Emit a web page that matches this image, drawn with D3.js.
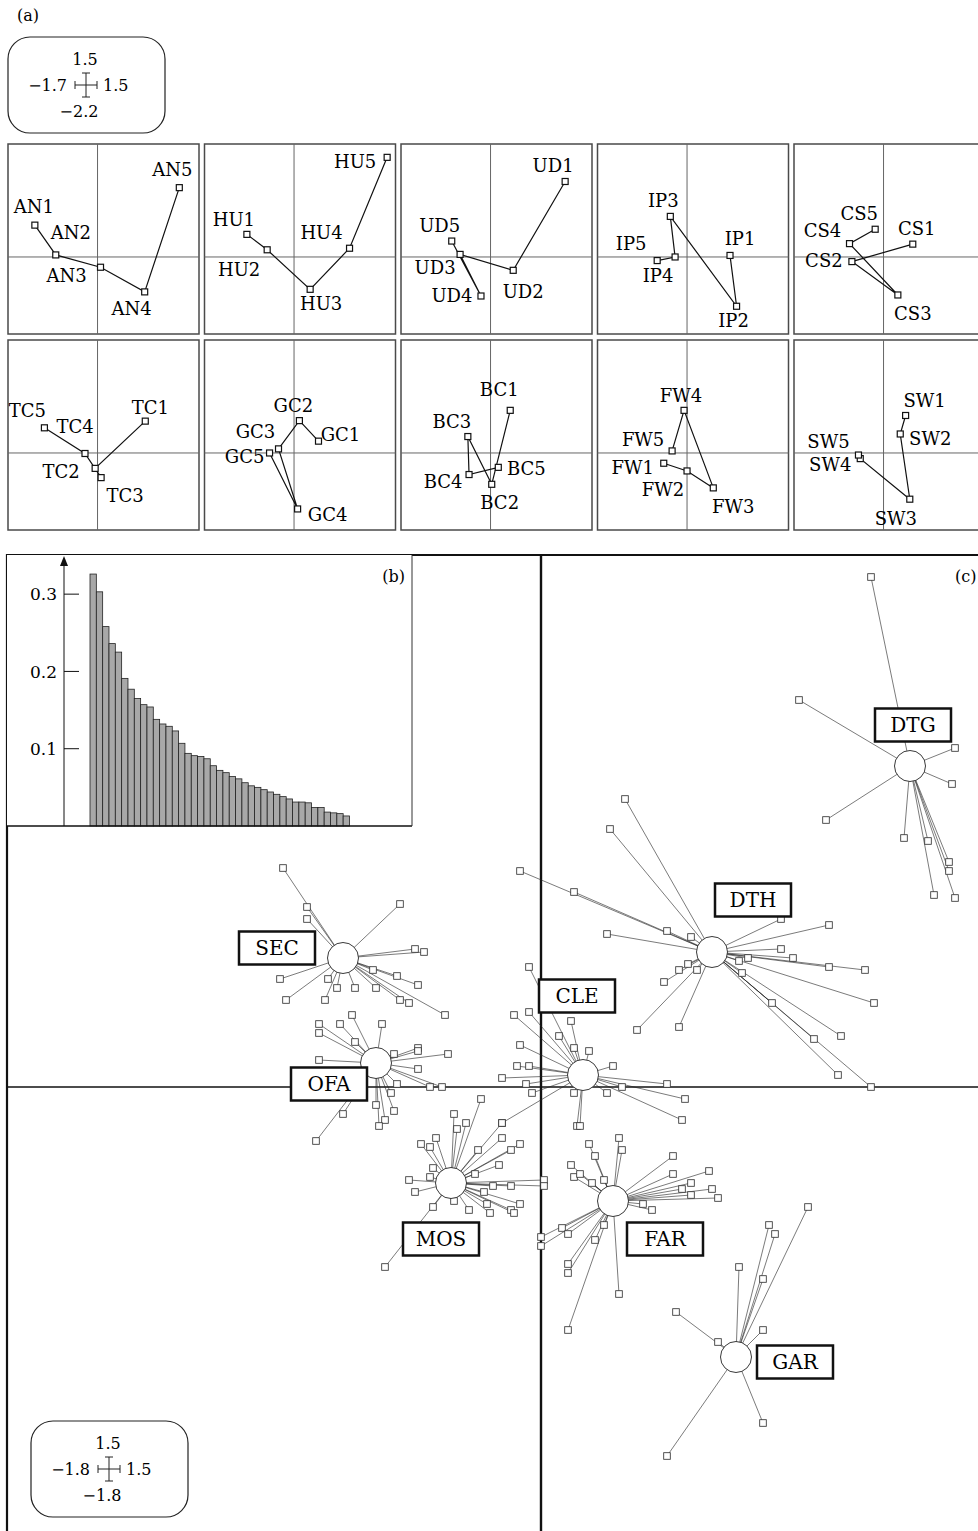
<!DOCTYPE html>
<html>
<head>
<meta charset="utf-8">
<script src="https://cdn.jsdelivr.net/npm/d3@7"></script>
<style>
  body { margin: 0; background: #fff; }
  svg { display: block; font-family: "DejaVu Serif", "Liberation Serif", serif; }
</style>
</head>
<body>
<div id="chart"></div>
<script>
/*
** Data
*/
// (a) modalities of the ten variables, in panel order
var panelNames = ["AN", "HU", "UD", "IP", "CS", "TC", "GC", "BC", "FW", "SW"];
var modX = [
    [-1.05, -0.70, 0.05, 0.79, 1.37]
  , [-0.79, -0.45, 0.27, 0.93, 1.56]
  , [1.25, 0.38, -0.51, -0.16, -0.65]
  , [0.72, 0.83, -0.28, -0.20, -0.50]
  , [0.49, -0.53, 0.24, -0.57, -0.14]
  , [0.80, -0.04, 0.06, -0.21, -0.89]
  , [0.41, 0.09, -0.26, 0.06, -0.41]
  , [0.33, 0.02, -0.38, -0.36, 0.13]
  , [-0.39, 0.00, 0.44, -0.05, -0.25]
  , [0.37, 0.28, 0.44, -0.39, -0.42]
];
var modY = [
    [0.62, 0.04, -0.20, -0.68, 1.35]
  , [0.44, 0.14, -0.63, 0.17, 1.94]
  , [1.47, -0.26, 0.05, -0.76, 0.31]
  , [0.03, -0.96, 0.79, 0.00, -0.07]
  , [0.25, -0.09, -0.74, 0.26, 0.54]
  , [0.62, -0.30, -0.48, -0.01, 0.49]
  , [0.23, 0.63, 0.08, -1.09, 0.00]
  , [0.83, -0.61, 0.32, -0.42, -0.28]
  , [-0.20, -0.35, -0.68, 0.83, 0.04]
  , [0.73, 0.37, -0.90, -0.11, -0.04]
];
var legendA = ["1.5", "\u22121.7", "1.5", "\u22122.2"];

// (b) eigenvalues
var eigenvalues = [0.326, 0.303, 0.258, 0.236, 0.225, 0.191, 0.177, 0.165, 0.157, 0.154,
  0.138, 0.132, 0.129, 0.123, 0.107, 0.094, 0.091, 0.090, 0.087, 0.078,
  0.072, 0.069, 0.064, 0.061, 0.056, 0.052, 0.050, 0.047, 0.044, 0.041,
  0.038, 0.035, 0.031, 0.031, 0.030, 0.024, 0.024, 0.018, 0.017, 0.016, 0.013];
var eigenTicks = [0.1, 0.2, 0.3];

// (c) sites grouped by class, with class centres
var groupNames = ["DTG", "DTH", "SEC", "CLE", "OFA", "MOS", "FAR", "GAR"];
var centreX = [1.23, 0.57, -0.66, 0.14, -0.55, -0.30, 0.24, 0.65];
var centreY = [1.07, 0.45, 0.43, 0.04, 0.08, -0.32, -0.38, -0.90];
var siteDTG = [[1.10,1.70],[0.86,1.29],[1.38,1.13],[1.37,1.01],[0.95,0.89],[1.21,0.83],
  [1.29,0.82],[1.36,0.75],[1.36,0.72],[1.31,0.64],[1.38,0.63]];
var siteDTH = [[0.28,0.96],[0.23,0.86],[-0.07,0.72],[0.11,0.65],[0.42,0.52],[0.50,0.50],
  [0.22,0.51],[0.80,0.56],[0.96,0.54],[0.80,0.46],[0.84,0.43],[0.96,0.40],[1.08,0.39],
  [1.11,0.28],[0.66,0.42],[0.69,0.43],[0.67,0.38],[0.49,0.41],[0.46,0.39],[0.52,0.39],
  [0.41,0.35],[0.32,0.19],[0.46,0.20],[0.77,0.28],[1.00,0.17],[0.91,0.16],[0.99,0.04],[1.10,0.00]];
var siteSEC = [[-0.86,0.73],[-0.78,0.60],[-0.78,0.56],[-0.47,0.61],[-0.42,0.46],[-0.39,0.45],
  [-0.87,0.36],[-0.85,0.29],[-0.71,0.36],[-0.68,0.33],[-0.72,0.29],[-0.62,0.33],[-0.56,0.39],
  [-0.55,0.33],[-0.48,0.37],[-0.41,0.34],[-0.47,0.29],[-0.44,0.28],[-0.32,0.24]];
var siteCLE = [[-0.04,0.40],[-0.09,0.24],[-0.04,0.25],[0.10,0.22],[0.06,0.17],[0.11,0.13],
  [0.16,0.12],[0.24,0.07],[-0.08,0.07],[-0.04,0.07],[-0.13,0.03],[-0.05,0.01],[-0.03,-0.02],
  [0.11,-0.02],[0.22,-0.02],[0.27,0.00],[0.42,0.01],[0.48,-0.04],[0.47,-0.11],[0.12,-0.13],
  [0.13,-0.13],[-0.13,-0.12],[-0.07,0.14]];
var siteOFA = [[-0.63,0.24],[-0.74,0.21],[-0.74,0.18],[-0.67,0.21],[-0.62,0.15],[-0.53,0.21],
  [-0.74,0.09],[-0.49,0.11],[-0.41,0.13],[-0.41,0.12],[-0.31,0.11],[-0.41,0.06],[-0.48,0.01],
  [-0.37,0.00],[-0.33,0.00],[-0.50,-0.02],[-0.49,-0.08],[-0.55,-0.06],[-0.52,-0.11],
  [-0.54,-0.13],[-0.66,-0.09],[-0.75,-0.18]];
var siteMOS = [[-0.20,-0.04],[-0.29,-0.09],[-0.25,-0.12],[-0.28,-0.14],[-0.13,-0.12],[-0.13,-0.17],
  [-0.35,-0.17],[-0.40,-0.19],[-0.37,-0.20],[-0.07,-0.19],[-0.21,-0.21],[-0.10,-0.21],
  [-0.36,-0.27],[-0.14,-0.26],[-0.37,-0.30],[-0.44,-0.31],[-0.22,-0.29],[-0.42,-0.35],
  [-0.16,-0.33],[-0.10,-0.33],[0.01,-0.31],[0.01,-0.33],[-0.19,-0.35],[-0.18,-0.39],
  [-0.07,-0.39],[-0.29,-0.38],[-0.24,-0.41],[-0.17,-0.42],[-0.10,-0.41],[-0.09,-0.42],
  [-0.36,-0.40],[-0.52,-0.60]];
var siteFAR = [[0.26,-0.17],[0.27,-0.21],[0.16,-0.19],[0.18,-0.23],[0.44,-0.23],[0.10,-0.26],
  [0.11,-0.30],[0.13,-0.29],[0.21,-0.31],[0.17,-0.32],[0.44,-0.29],[0.56,-0.28],[0.50,-0.32],
  [0.47,-0.34],[0.57,-0.34],[0.59,-0.37],[0.50,-0.36],[0.37,-0.41],[0.34,-0.39],[0.07,-0.47],
  [0.09,-0.49],[0.00,-0.50],[0.00,-0.53],[0.21,-0.46],[0.18,-0.51],[0.09,-0.59],[0.09,-0.62],
  [0.26,-0.69],[0.09,-0.81]];
var siteGAR = [[0.89,-0.40],[0.76,-0.46],[0.78,-0.49],[0.66,-0.60],[0.74,-0.64],[0.45,-0.75],
  [0.74,-0.81],[0.59,-0.85],[0.74,-1.12],[0.42,-1.23]];
var sites = [siteDTG, siteDTH, siteSEC, siteCLE, siteOFA, siteMOS, siteFAR, siteGAR];
var legendC = ["1.5", "\u22121.8", "1.5", "\u22121.8"];

/*
** Layout (pixels)
*/
var W = 978, H = 1531
  , panelW = 191, panelH = 190
  , panelTop = [144, 340]
  // label centre offsets from each modality square
  , modNudge = [
        [[-1,-19],[15,-22],[-34,8],[-13,17],[-7,-18]]
      , [[-13,-15],[-28,20],[11,14],[-28,-16],[-32,4]]
      , [[-12,-16],[10,21],[-25,13],[-29,0],[-12,-16]]
      , [[10,-17],[-3,14],[-7,-16],[-17,19],[-26,-17]]
      , [[4,-16],[-28,-1],[15,19],[-27,-13],[-16,-16]]
      , [[5,-14],[-34,3],[24,18],[-10,-27],[-17,-17]]
      , [[22,-7],[-6,-15],[-23,-17],[30,6],[-25,4]]
      , [[-11,-21],[8,18],[-16,-15],[-26,7],[28,1]]
      , [[-31,4],[-24,19],[20,19],[-3,-15],[-29,-11]]
      , [[19,-15],[30,5],[-14,19],[-30,6],[-30,-14]]
    ]
  // class label box offsets from each centre
  , groupNudge = [[3,-41],[41,-52],[-66,-10],[-6,-79],[-47,21],[-10,56],[52,38],[59,5]]
;

var svg = d3.select("#chart").append("svg")
    .attr("width", W)
    .attr("height", H)
;
svg.append("rect").attr("width", W).attr("height", H).attr("fill", "#fff");

/*
** Helper Functions
*/
function scaleLegend(g, x0, y0, labels) {
    var lg = g.append("g").attr("transform", "translate(" + x0 + "," + y0 + ")");
    lg.append("rect")
        .attr("width", 157).attr("height", 96).attr("rx", 22)
        .attr("fill", "#fff").attr("stroke", "#222").attr("stroke-width", 1.2)
    ;
    var t = lg.append("g").attr("font-size", 16).attr("fill", "#000");
    t.append("text").attr("x", 77).attr("y", 28).attr("text-anchor", "middle").text(labels[0]);
    t.append("text").attr("x", 59).attr("y", 54).attr("text-anchor", "end").text(labels[1]);
    t.append("text").attr("x", 95).attr("y", 54).attr("text-anchor", "start").text(labels[2]);
    t.append("text").attr("x", 71).attr("y", 80).attr("text-anchor", "middle").text(labels[3]);
    var cx = 78, cy = 48;
    var path = "M" + (cx - 11) + "," + cy + "H" + (cx + 11)
      + "M" + cx + "," + (cy - 12) + "V" + (cy + 12)
      + "M" + (cx - 11) + "," + (cy - 4) + "V" + (cy + 4)
      + "M" + (cx + 11) + "," + (cy - 4) + "V" + (cy + 4)
      + "M" + (cx - 4) + "," + (cy - 12) + "H" + (cx + 4)
      + "M" + (cx - 4) + "," + (cy + 12) + "H" + (cx + 4);
    lg.append("path").attr("d", path).attr("stroke", "#222").attr("stroke-width", 1).attr("fill", "none");
} // scaleLegend()

/*
** (a) Modality panels
*/
svg.append("text").attr("x", 17).attr("y", 21).attr("font-size", 16).text("(a)");
scaleLegend(svg, 8, 37, legendA);

var px = d3.scaleLinear().domain([-1.5, 1.7]).range([0, panelW])
  , py = d3.scaleLinear().domain([-1.5, 2.2]).range([panelH, 0])
  , modLine = d3.line().x(function(d) { return px(d[0]); }).y(function(d) { return py(d[1]); })
;

panelNames.forEach(function(name, i) {
    var g = svg.append("g")
        .attr("transform", "translate(" + (8 + (i % 5) * 196.5) + "," + panelTop[Math.floor(i / 5)] + ")")
      , pts = modX[i].map(function(x, j) { return [x, modY[i][j]]; })
    ;
    g.append("rect")
        .attr("width", panelW).attr("height", panelH)
        .attr("fill", "#fff").attr("stroke", "#4a4a4a").attr("stroke-width", 1.5)
    ;
    g.append("line")
        .attr("x1", px(0)).attr("x2", px(0)).attr("y1", 0).attr("y2", panelH)
        .attr("stroke", "#666").attr("stroke-width", 1)
    ;
    g.append("line")
        .attr("x1", 0).attr("x2", panelW).attr("y1", py(0)).attr("y2", py(0))
        .attr("stroke", "#666").attr("stroke-width", 1)
    ;
    g.append("path")
        .attr("d", modLine(pts))
        .attr("fill", "none").attr("stroke", "#111").attr("stroke-width", 1.2)
    ;
    g.selectAll("rect.mod")
        .data(pts)
      .enter().append("rect")
        .attr("class", "mod")
        .attr("x", function(d) { return px(d[0]) - 3; })
        .attr("y", function(d) { return py(d[1]) - 3; })
        .attr("width", 6).attr("height", 6)
        .attr("fill", "#fff").attr("stroke", "#111").attr("stroke-width", 1.2)
    ;
    g.selectAll("text.mod")
        .data(pts)
      .enter().append("text")
        .attr("class", "mod")
        .attr("x", function(d, j) { return px(d[0]) + modNudge[i][j][0]; })
        .attr("y", function(d, j) { return py(d[1]) + modNudge[i][j][1]; })
        .attr("dy", "0.36em")
        .attr("text-anchor", "middle")
        .attr("font-size", 18)
        .attr("fill", "#000")
        .text(function(d, j) { return name + (j + 1); })
    ;
});

/*
** (c) Class scatter
*/
var sx = d3.scaleLinear().domain([-1.78, 1.49]).range([7, 988])
  , sy = d3.scaleLinear().domain([-1.48, 1.77]).range([1531, 556])
  , main = svg.append("g")
;

main.append("line")
    .attr("x1", sx(0)).attr("x2", sx(0)).attr("y1", 555).attr("y2", H + 5)
    .attr("stroke", "#111").attr("stroke-width", 2.4)
;
main.append("line")
    .attr("x1", 7).attr("x2", W + 5).attr("y1", sy(0)).attr("y2", sy(0))
    .attr("stroke", "#111").attr("stroke-width", 1.6)
;

var spokes = main.append("g").attr("stroke", "#222").attr("stroke-width", 0.6);
sites.forEach(function(list, k) {
    spokes.selectAll(null)
        .data(list)
      .enter().append("line")
        .attr("x1", function(d) { return sx(d[0]); })
        .attr("y1", function(d) { return sy(d[1]); })
        .attr("x2", sx(centreX[k]))
        .attr("y2", sy(centreY[k]))
    ;
});
sites.forEach(function(list) {
    main.selectAll(null)
        .data(list)
      .enter().append("rect")
        .attr("x", function(d) { return sx(d[0]) - 3.3; })
        .attr("y", function(d) { return sy(d[1]) - 3.3; })
        .attr("width", 6.6).attr("height", 6.6)
        .attr("fill", "#fff").attr("stroke", "#333").attr("stroke-width", 0.85)
    ;
});

main.selectAll("circle.centre")
    .data(groupNames)
  .enter().append("circle")
    .attr("class", "centre")
    .attr("cx", function(d, k) { return sx(centreX[k]); })
    .attr("cy", function(d, k) { return sy(centreY[k]); })
    .attr("r", 15.5)
    .attr("fill", "#fff").attr("stroke", "#222").attr("stroke-width", 0.9)
;

var labels = main.selectAll("g.label")
    .data(groupNames)
  .enter().append("g")
    .attr("class", "label")
    .attr("transform", function(d, k) {
        return "translate(" + (sx(centreX[k]) + groupNudge[k][0]) + ","
          + (sy(centreY[k]) + groupNudge[k][1]) + ")";
      })
;
labels.append("rect")
    .attr("x", -38).attr("y", -16.5).attr("width", 76).attr("height", 33)
    .attr("fill", "#fff").attr("stroke", "#111").attr("stroke-width", 2.5)
;
labels.append("text")
    .attr("text-anchor", "middle").attr("dy", "0.36em")
    .attr("font-size", 20).attr("fill", "#000")
    .text(function(d) { return d; })
;

// frame of (c)
main.append("path")
    .attr("d", "M7," + (H + 5) + "V555H" + (W + 5))
    .attr("fill", "none").attr("stroke", "#111").attr("stroke-width", 2.2)
;
main.append("text").attr("x", 955).attr("y", 582).attr("font-size", 16).text("(c)");
scaleLegend(svg, 31, 1421, legendC);

/*
** (b) Eigenvalue inset
*/
var inset = svg.append("g")
  , ex = d3.scaleBand().domain(d3.range(eigenvalues.length)).range([90, 349.5])
  , ey = d3.scaleLinear().domain([0, 0.35]).range([826, 555.5])
;
inset.append("rect")
    .attr("x", 7).attr("y", 555).attr("width", 405).attr("height", 271)
    .attr("fill", "#fff")
;
inset.selectAll("rect.bar")
    .data(eigenvalues)
  .enter().append("rect")
    .attr("class", "bar")
    .attr("x", function(d, i) { return ex(i); })
    .attr("y", function(d) { return ey(d); })
    .attr("width", ex.bandwidth())
    .attr("height", function(d) { return ey(0) - ey(d); })
    .attr("fill", "#a8a8a8").attr("stroke", "#222").attr("stroke-width", 0.8)
;
inset.append("line")
    .attr("x1", 7).attr("x2", 412).attr("y1", ey(0)).attr("y2", ey(0))
    .attr("stroke", "#111").attr("stroke-width", 1.6)
;
inset.append("line")
    .attr("x1", 412).attr("x2", 412).attr("y1", 555).attr("y2", ey(0))
    .attr("stroke", "#333").attr("stroke-width", 1)
;
inset.append("line")
    .attr("x1", 64).attr("x2", 64).attr("y1", ey(0)).attr("y2", 565)
    .attr("stroke", "#111").attr("stroke-width", 1)
;
inset.append("path")
    .attr("d", "M60,566L64,556L68,566Z")
    .attr("fill", "#111")
;
var ticks = inset.selectAll("g.tick")
    .data(eigenTicks)
  .enter().append("g")
    .attr("class", "tick")
    .attr("transform", function(d) { return "translate(0," + ey(d) + ")"; })
;
ticks.append("line").attr("x1", 64).attr("x2", 79).attr("stroke", "#111").attr("stroke-width", 1);
ticks.append("text")
    .attr("x", 57).attr("dy", "0.36em")
    .attr("text-anchor", "end").attr("font-size", 17).attr("fill", "#000")
    .text(function(d) { return d3.format(".1f")(d); })
;
inset.append("text").attr("x", 405).attr("y", 582).attr("text-anchor", "end").attr("font-size", 16).text("(b)");
</script>
</body>
</html>
